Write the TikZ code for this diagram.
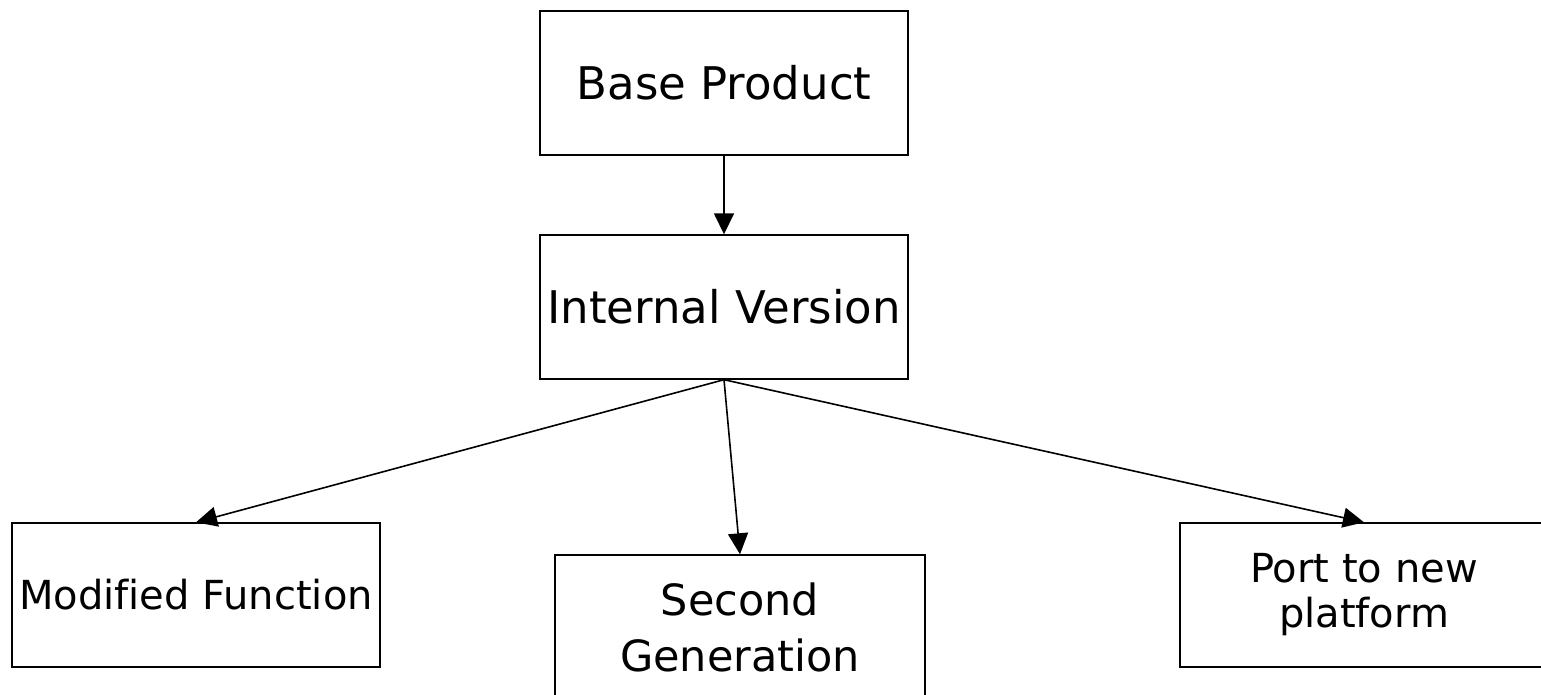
\documentclass[tikz,border=0pt]{standalone}
\usepackage{fontspec}
\setmainfont{DejaVu Sans}[Ligatures=NoCommon]
\usetikzlibrary{arrows.meta}
\begin{document}
\begin{tikzpicture}[x=1pt,y=-1pt,
  box/.style={draw=black,line width=1.4pt,rectangle,minimum width=368pt,minimum height=144pt,inner sep=0pt,align=center},
  big/.style={font=\fontsize{45}{54}\selectfont},
  small/.style={font=\fontsize{40}{45}\selectfont},
  conn/.style={draw=black,line width=1.6pt,-{Triangle[length=21pt,width=20pt]}}]
\useasboundingbox (0,0) rectangle (1541,695);
\node[box,big] (base) at (724,83) {Base Product};
\node[box,big] (int) at (724,307) {Internal Version};
\node[box,small] (mod) at (196,595) {Modified Function};
\node[box,minimum width=370pt,font=\fontsize{43}{56}\selectfont] (sec) at (740,627) {Second\\Generation};
\node[box,small] (port) at (1364,595) {Port to new\\platform};
\draw[conn] (base.south) -- (int.north);
\draw[conn] (int.south) -- (mod.north);
\draw[conn] (int.south) -- (sec.north);
\draw[conn] (int.south) -- (port.north);
\end{tikzpicture}
\end{document}
